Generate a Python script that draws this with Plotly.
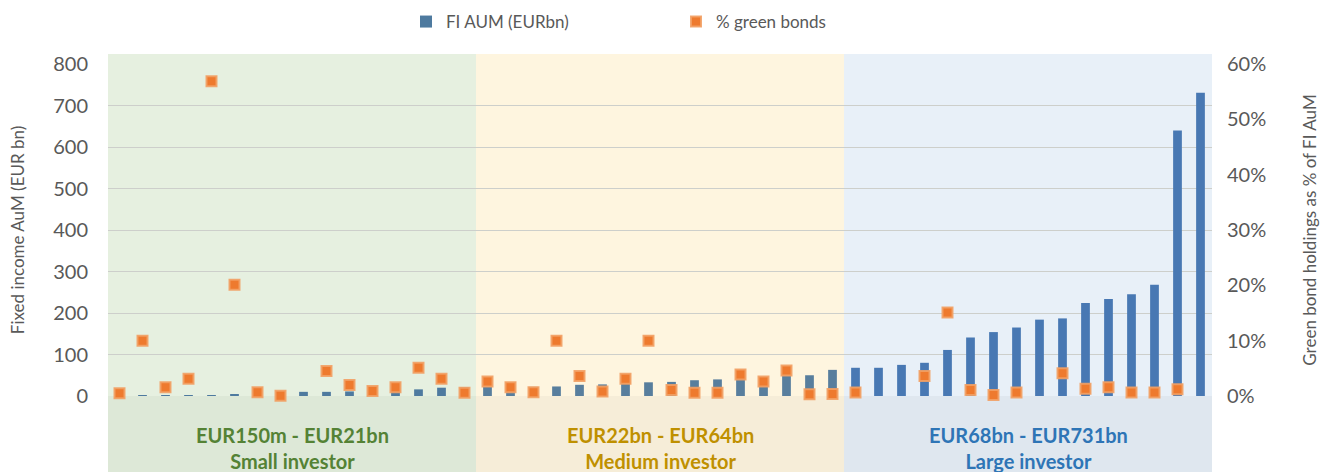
import plotly.graph_objects as go

# ---------------- data ----------------
groups = ["Small"] * 16 + ["Medium"] * 16 + ["Large"] * 16

fi_aum = [
    # small investors
    0.3, 0.5, 1, 1, 1.5, 4, 5, 6, 10, 10, 11, 12, 13, 16, 20, 21,
    # medium investors
    22, 22, 22, 23, 27, 28, 30, 33, 34, 38, 40, 41, 46, 50, 50, 63,
    # large investors
    68, 68, 75, 80, 111, 141, 154, 165, 184, 187, 224, 234, 245, 268, 640, 731,
]

green_pct = [
    # small investors
    0.5, 10.0, 1.6, 3.1, 56.9, 20.1, 0.7, 0.05, None, 4.5, 2.0, 0.9, 1.6, 5.1, 3.1, 0.6,
    # medium investors
    2.6, 1.6, 0.7, 10.0, 3.6, 0.8, 3.1, 10.0, 1.1, 0.6, 0.6, 3.9, 2.6, 4.6, 0.3, 0.35,
    # large investors
    0.65, None, None, 3.6, 15.1, 1.1, 0.2, 0.65, None, 4.1, 1.3, 1.6, 0.65, 0.65, 1.2, None,
]

band_ranges = ["EUR150m - EUR21bn", "EUR22bn - EUR64bn", "EUR68bn - EUR731bn"]
band_names = ["Small investor", "Medium investor", "Large investor"]

left_ticks = [0, 100, 200, 300, 400, 500, 600, 700, 800]
right_ticks = [0, 10, 20, 30, 40, 50, 60]
right_tick_text = [f"{v}%" for v in right_ticks]

# ---------------- style ----------------
x = list(range(len(fi_aum)))
bar_color_map = {"Small": "#4E7A9F", "Medium": "#587E9D", "Large": "#4878B3"}
bar_colors = [bar_color_map[g] for g in groups]
band_top = ["#E6F0E0", "#FEF5DF", "#E8F0F8"]
band_bottom = ["#DDE8D7", "#F6EDD8", "#DFE7EF"]
label_colors = ["#548235", "#BF9000", "#2E75B6"]
FONT = "Lato"
W, H = 1320, 472
plot_left, plot_right = 108, 1212
plot_top, plot_bot = 64, 396
ph = plot_bot - plot_top

fig = go.Figure()

fig.add_trace(go.Bar(
    x=x, y=fi_aum, name="FI AUM (EURbn)",
    marker=dict(color=bar_colors, line=dict(width=0)),
    width=0.38, yaxis="y",
))

fig.add_trace(go.Scatter(
    x=x, y=green_pct, name="% green bonds", mode="markers",
    marker=dict(symbol="square", size=10, color="#EE7A2E",
                line=dict(color="rgba(242,160,100,0.9)", width=2)),
    yaxis="y2", cliponaxis=False,
))

y_bottom = -(H - plot_bot) / ph
y_top = 1 + 10 / ph

n = 16
for i in range(3):
    x0 = i * n - 0.5
    x1 = (i + 1) * n - 0.5
    fig.add_shape(type="rect", xref="x", yref="paper", x0=x0, x1=x1,
                  y0=0, y1=y_top, fillcolor=band_top[i],
                  line=dict(width=0), layer="below")
    fig.add_shape(type="rect", xref="x", yref="paper", x0=x0, x1=x1,
                  y0=y_bottom, y1=0, fillcolor=band_bottom[i],
                  line=dict(width=0), layer="below")
    fig.add_annotation(
        x=(x0 + x1) / 2, xref="x", y=(plot_bot - 448) / ph, yref="paper",
        text=f"<b>{band_ranges[i]}</b><br><b>{band_names[i]}</b>",
        showarrow=False, yanchor="middle", xanchor="center",
        font=dict(family=FONT, size=20, color=label_colors[i]),
    )

fig.update_layout(
    width=W, height=H,
    margin=dict(l=plot_left, r=W - plot_right, t=plot_top, b=H - plot_bot,
                pad=0, autoexpand=False),
    paper_bgcolor="white", plot_bgcolor="rgba(0,0,0,0)",
    font=dict(family=FONT, color="#595959", size=17),
    showlegend=True,
    legend=dict(orientation="h", xref="container", x=406 / W, xanchor="left",
                yref="container", y=1 - 22 / H, yanchor="middle",
                font=dict(family=FONT, size=17, color="#595959"),
                entrywidth=225, entrywidthmode="pixels",
                bgcolor="rgba(0,0,0,0)"),
    xaxis=dict(range=[-0.5, len(x) - 0.5], showticklabels=False,
               showgrid=False, zeroline=False, showline=False, ticks=""),
    yaxis=dict(range=[0, 800], tickvals=left_ticks, automargin=False,
               showgrid=True, gridcolor="#CDCFCB", gridwidth=1.3,
               zeroline=False, showline=False, ticks="",
               ticklabelstandoff=19,
               tickfont=dict(family=FONT, size=20, color="#595959"),
               title=dict(text="Fixed income AuM (EUR bn)", standoff=24,
                          font=dict(family=FONT, size=17, color="#595959"))),
    yaxis2=dict(range=[0, 60], tickvals=right_ticks, ticktext=right_tick_text,
                overlaying="y", side="right", showgrid=False, automargin=False,
                zeroline=False, showline=False, ticks="",
                ticklabelstandoff=14,
                tickfont=dict(family=FONT, size=20, color="#595959"),
                title=dict(text="Green bond holdings as % of FI AuM", standoff=38,
                           font=dict(family=FONT, size=17, color="#595959"))),
)

fig.write_html("out.html",
               config={"displayModeBar": False},
               post_script="document.body.style.margin='0';document.body.style.overflow='hidden';")
